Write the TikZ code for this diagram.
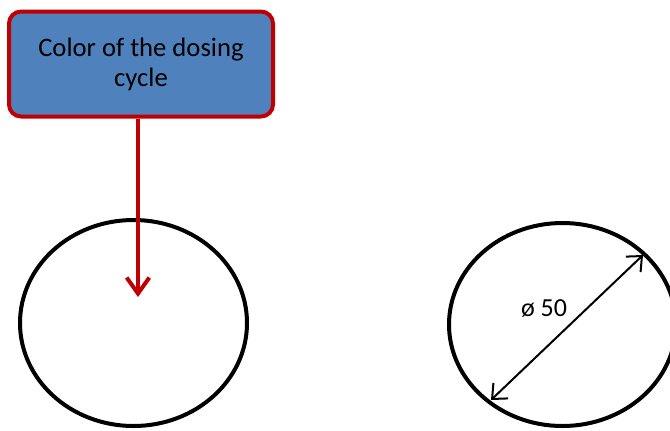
\documentclass[tikz,border=0pt]{standalone}
\usepackage{fontspec}
\setmainfont{Carlito}
\usetikzlibrary{shapes.geometric,arrows.meta}
\definecolor{boxred}{HTML}{C00000}
\definecolor{boxblue}{HTML}{4F81BD}
\begin{document}
\begin{tikzpicture}[x=0.75pt,y=-0.75pt,
  labelbox/.style={draw=boxred,fill=boxblue,line width=3pt,rounded corners=9pt,
    minimum width=264*0.75pt,minimum height=105*0.75pt,align=center,
    font=\fontsize{20}{22.5}\selectfont,inner sep=0pt},
  ring/.style={ellipse,draw=black,line width=3pt,inner sep=0pt},
  pointer/.style={draw=boxred,line width=3pt,-{Straight Barb[length=12pt,width=17pt]}},
  dimline/.style={draw=black,line width=1.5pt,{Straight Barb[length=9pt,width=16pt]}-{Straight Barb[length=9pt,width=16pt]}},
  dimlabel/.style={font=\fontsize{19.5}{22}\selectfont,inner sep=0pt}]
\useasboundingbox (0,0) rectangle (670,430);
\node[labelbox] (box) at (141,64) {Color of the dosing\\cycle};
\node[ring,minimum width=227*0.75pt,minimum height=206*0.75pt] (left) at (133.5,323) {};
\node[ring,minimum width=227*0.75pt,minimum height=203*0.75pt] (right) at (562.5,324.5) {};
\coordinate (tip) at (138,297);
\coordinate (d1) at (491,400);
\coordinate (d2) at (643,255);
\draw[pointer] (box.south -| tip) -- (tip);
\draw[dimline] (d1) -- (d2);
\node[dimlabel] (dia) at (544,309) {ø 50};
\end{tikzpicture}
\end{document}
